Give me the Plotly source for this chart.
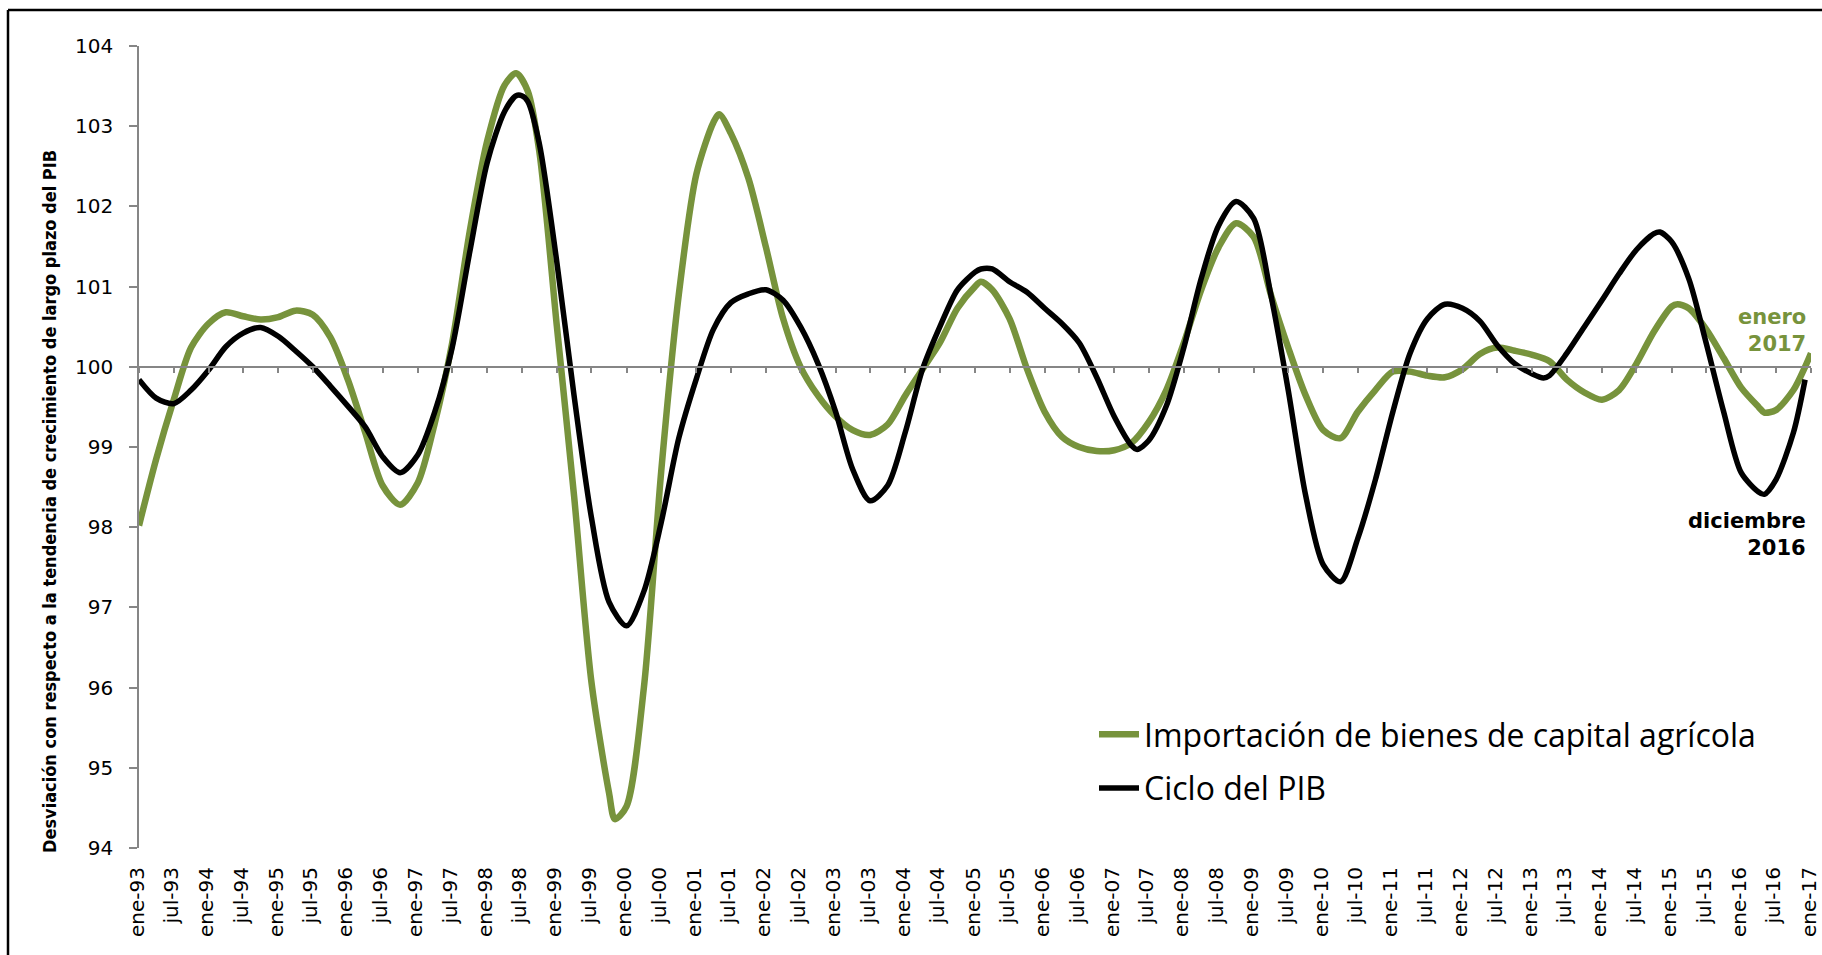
import plotly.graph_objects as go
import pandas as pd

# ---------------- data ----------------
green_dates = ["1993-01","1993-04","1993-07","1993-10","1994-01","1994-04","1994-07","1994-10",
               "1995-01","1995-04","1995-07","1995-10","1996-01","1996-04","1996-07","1996-10",
               "1997-01","1997-04","1997-07","1997-10","1998-01","1998-04","1998-06","1998-08",
               "1998-10","1999-01","1999-04","1999-07","1999-10","1999-11","2000-01","2000-04",
               "2000-07","2000-10","2001-01","2001-04","2001-05","2001-07","2001-10","2002-01",
               "2002-04","2002-07","2002-10","2003-01","2003-04","2003-07","2003-10","2004-01",
               "2004-04","2004-07","2004-10","2005-01","2005-02","2005-04","2005-07","2005-10",
               "2006-01","2006-04","2006-07","2006-10","2007-01","2007-04","2007-07","2007-10",
               "2008-01","2008-04","2008-07","2008-10","2009-01","2009-04","2009-07","2009-10",
               "2010-01","2010-04","2010-07","2010-10","2011-01","2011-04","2011-07","2011-10",
               "2012-01","2012-04","2012-07","2012-10","2013-01","2013-04","2013-07","2013-10",
               "2014-01","2014-04","2014-07","2014-10","2015-01","2015-02","2015-04","2015-07",
               "2015-10","2016-01","2016-04","2016-05","2016-07","2016-10","2016-12","2017-01"]
green_values = [98.02, 98.85, 99.58, 100.24, 100.54, 100.68, 100.63, 100.59,
                100.62, 100.70, 100.65, 100.37, 99.84, 99.18, 98.52, 98.28,
                98.55, 99.30, 100.30, 101.69, 102.82, 103.51, 103.66, 103.44,
                102.68, 100.50, 98.39, 96.07, 94.69, 94.36, 94.52, 96.00,
                98.70, 100.90, 102.40, 103.05, 103.15, 102.91, 102.35, 101.49,
                100.60, 100.00, 99.64, 99.38, 99.21, 99.15, 99.28, 99.64,
                99.97, 100.30, 100.73, 101.00, 101.06, 100.96, 100.60, 99.97,
                99.44, 99.13, 99.00, 98.95, 98.96, 99.05, 99.31, 99.71,
                100.30, 100.96, 101.49, 101.79, 101.62, 100.90, 100.24, 99.64,
                99.21, 99.11, 99.44, 99.71, 99.94, 99.94, 99.89, 99.87,
                99.97, 100.16, 100.24, 100.20, 100.15, 100.07, 99.84, 99.68,
                99.59, 99.71, 100.04, 100.44, 100.75, 100.78, 100.73, 100.47,
                100.11, 99.74, 99.50, 99.43, 99.46, 99.71, 100.00, 100.17]

black_dates = ["1993-01","1993-04","1993-07","1993-10","1994-01","1994-04","1994-07","1994-10",
               "1995-01","1995-04","1995-07","1995-10","1996-01","1996-04","1996-07","1996-10",
               "1997-01","1997-04","1997-07","1997-10","1998-01","1998-04","1998-06","1998-07",
               "1998-08","1998-10","1999-01","1999-04","1999-07","1999-10","2000-01","2000-04",
               "2000-07","2000-10","2001-01","2001-04","2001-07","2001-10","2002-01","2002-04",
               "2002-07","2002-10","2003-01","2003-04","2003-07","2003-10","2004-01","2004-04",
               "2004-07","2004-10","2005-01","2005-02","2005-04","2005-07","2005-10","2006-01",
               "2006-04","2006-07","2006-10","2007-01","2007-04","2007-05","2007-07","2007-10",
               "2008-01","2008-04","2008-07","2008-10","2009-01","2009-04","2009-07","2009-10",
               "2010-01","2010-04","2010-07","2010-10","2011-01","2011-04","2011-07","2011-10",
               "2012-01","2012-04","2012-07","2012-10","2013-01","2013-03","2013-04","2013-07",
               "2013-10","2014-01","2014-04","2014-07","2014-10","2014-11","2015-01","2015-04",
               "2015-07","2015-10","2016-01","2016-04","2016-05","2016-07","2016-10","2016-12"]
black_values = [99.84, 99.61, 99.54, 99.71, 99.96, 100.25, 100.42, 100.49,
                100.38, 100.20, 100.00, 99.76, 99.51, 99.25, 98.88, 98.68,
                98.90, 99.44, 100.24, 101.43, 102.55, 103.18, 103.38, 103.38,
                103.31, 102.78, 101.30, 99.64, 98.12, 97.07, 96.77, 97.20,
                98.06, 99.11, 99.85, 100.47, 100.80, 100.91, 100.96, 100.83,
                100.50, 100.04, 99.44, 98.72, 98.33, 98.52, 99.18, 99.97,
                100.50, 100.96, 101.18, 101.22, 101.22, 101.06, 100.93, 100.73,
                100.54, 100.30, 99.87, 99.38, 99.02, 98.97, 99.08, 99.51,
                100.24, 101.10, 101.76, 102.06, 101.85, 100.90, 99.71, 98.39,
                97.53, 97.32, 97.86, 98.59, 99.44, 100.17, 100.60, 100.78,
                100.73, 100.57, 100.27, 100.04, 99.91, 99.86, 99.89, 100.17,
                100.50, 100.83, 101.16, 101.46, 101.66, 101.68, 101.56, 101.10,
                100.30, 99.44, 98.68, 98.44, 98.41, 98.59, 99.18, 99.84]

tick_labels = ["ene-93","jul-93","ene-94","jul-94","ene-95","jul-95","ene-96","jul-96",
               "ene-97","jul-97","ene-98","jul-98","ene-99","jul-99","ene-00","jul-00",
               "ene-01","jul-01","ene-02","jul-02","ene-03","jul-03","ene-04","jul-04",
               "ene-05","jul-05","ene-06","jul-06","ene-07","jul-07","ene-08","jul-08",
               "ene-09","jul-09","ene-10","jul-10","ene-11","jul-11","ene-12","jul-12",
               "ene-13","jul-13","ene-14","jul-14","ene-15","jul-15","ene-16","jul-16",
               "ene-17"]
y_ticks = [94, 95, 96, 97, 98, 99, 100, 101, 102, 103, 104]

name_green = "Importación de bienes de capital agrícola"
name_black = "Ciclo del PIB"
y_title = "Desviación con respecto a la tendencia de crecimiento de largo plazo del PIB"

# ---------------- styling ----------------
GREEN = "#77933C"
AXIS_GREY = "#868686"
x_range = ["1993-01-01", "2017-01-01"]
tick_dates = pd.date_range("1993-01-01", "2017-01-01", freq="6MS")

fig = go.Figure()
fig.add_trace(go.Scatter(x=green_dates, y=green_values, name=name_green, mode="lines",
                         line=dict(color=GREEN, width=6.5, shape="spline", smoothing=0.8),
                         legendgroup="g1"))
fig.add_trace(go.Scatter(x=black_dates, y=black_values, name=name_black, mode="lines",
                         line=dict(color="black", width=5.5, shape="spline", smoothing=0.8),
                         legendgroup="g2"))
# empty helper trace so that the crossing axis (at 100) is drawn
fig.add_trace(go.Scatter(x=[green_dates[0]], y=[None], xaxis="x2", showlegend=False,
                         hoverinfo="skip", mode="lines"))

L, R, T, B = 139, 11, 46, 107
W, H = 1822, 955
pw = W - L - R
ph = H - T - B

def px_to_paper_x(px):
    return (px - L) / pw

def px_to_paper_y(py):
    return (H - B - py) / ph

fig.update_layout(
    width=W, height=H,
    margin=dict(l=L, r=R, t=T, b=B, pad=0, autoexpand=False),
    paper_bgcolor="white", plot_bgcolor="white",
    font=dict(family="DejaVu Sans", color="black"),
    showlegend=True,
    legend=dict(x=px_to_paper_x(1094), y=px_to_paper_y(707), xanchor="left", yanchor="top",
                font=dict(family="Open Sans", size=32, color="black"),
                bgcolor="rgba(0,0,0,0)", tracegroupgap=9, itemwidth=40),
    xaxis=dict(type="date", range=x_range, tickvals=tick_dates, ticktext=tick_labels,
               tickangle=-90, showline=False, showgrid=False, zeroline=False,
               ticks="outside", ticklen=10, tickcolor="rgba(0,0,0,0)",
               ticklabeloverflow="allow", automargin=False, ticklabelshift=-2,
               tickfont=dict(family="DejaVu Sans", size=20, color="black")),
    xaxis2=dict(type="date", range=x_range, overlaying="x", anchor="free",
                position=(100 - 94) / (104 - 94), side="bottom", automargin=False,
                tickvals=tick_dates, showticklabels=False, showline=True,
                linecolor=AXIS_GREY, linewidth=1.5, ticks="outside", ticklen=5,
                tickcolor=AXIS_GREY, tickwidth=1.5, showgrid=False, zeroline=False),
    yaxis=dict(range=[94, 104], tickvals=y_ticks, showline=True, linecolor=AXIS_GREY,
               linewidth=1.5, ticks="outside", ticklen=8, tickcolor=AXIS_GREY, tickwidth=1.5,
               showgrid=False, zeroline=False, ticklabelstandoff=12, automargin=False,
               tickfont=dict(family="DejaVu Sans", size=20, color="black")),
    annotations=[
        dict(text="<b>" + y_title + "</b>", textangle=-90, xref="paper", yref="paper",
             x=px_to_paper_x(49), y=px_to_paper_y(502), showarrow=False,
             xanchor="center", yanchor="middle",
             font=dict(family="DejaVu Sans Condensed", size=18, color="black")),
        dict(text="<b>enero<br>2017</b>", xref="paper", yref="paper",
             x=px_to_paper_x(1808), y=px_to_paper_y(330), showarrow=False,
             xanchor="right", yanchor="middle", align="right",
             font=dict(family="DejaVu Sans", size=21, color=GREEN)),
        dict(text="<b>diciembre<br>2016</b>", xref="paper", yref="paper",
             x=px_to_paper_x(1808), y=px_to_paper_y(534), showarrow=False,
             xanchor="right", yanchor="middle", align="right",
             font=dict(family="DejaVu Sans", size=21, color="black")),
    ],
    shapes=[
        dict(type="line", xref="paper", yref="paper", x0=px_to_paper_x(8), x1=px_to_paper_x(8),
             y0=px_to_paper_y(10), y1=px_to_paper_y(990), line=dict(color="black", width=2.5)),
        dict(type="line", xref="paper", yref="paper", x0=px_to_paper_x(8), x1=px_to_paper_x(1900),
             y0=px_to_paper_y(10), y1=px_to_paper_y(10), line=dict(color="black", width=2.5)),
    ],
)

fig.write_html("out.html", config={"displayModeBar": False},
               post_script="document.body.style.margin='0';document.body.style.overflow='hidden';")
